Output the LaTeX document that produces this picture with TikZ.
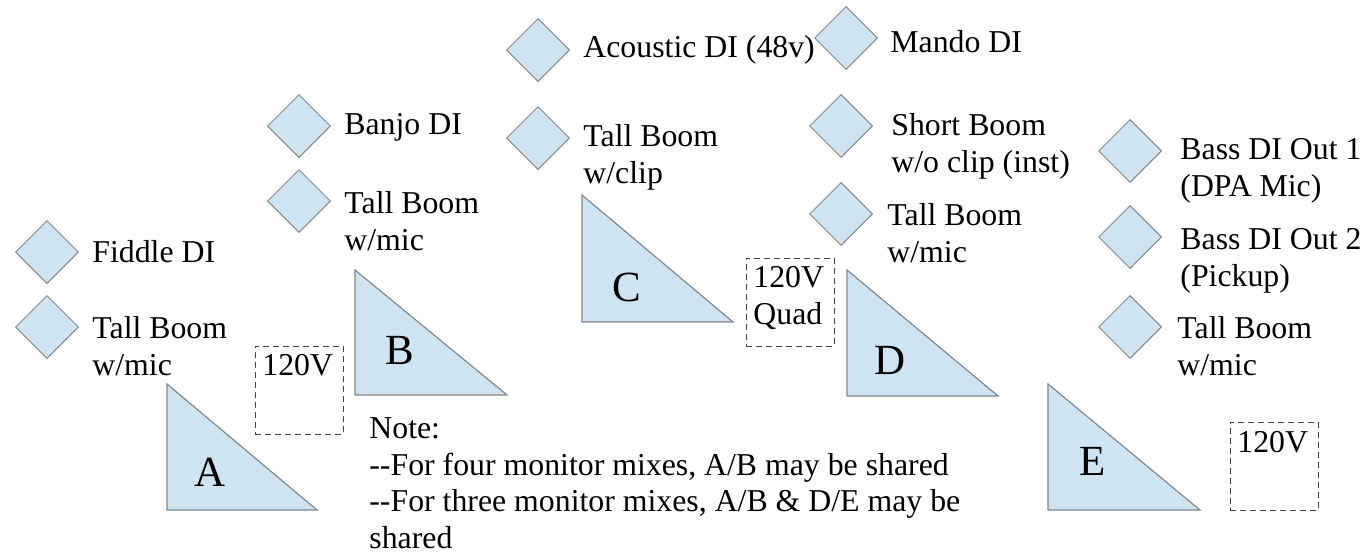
\documentclass[tikz,border=0pt]{standalone}
\usepackage{fontspec}
\setmainfont{Liberation Serif}
\usetikzlibrary{shapes.geometric,positioning}
\definecolor{standblue}{RGB}{207,228,242}
\definecolor{edgegray}{RGB}{135,135,135}
\definecolor{dashgray}{RGB}{70,70,70}

\begin{document}
\begin{tikzpicture}[x=0.5pt, y=-0.5pt,
        input/.style={diamond, draw=edgegray, fill=standblue, line width=0.5pt, minimum width=31.5pt, minimum height=31.5pt, inner sep=0pt},
        wedge/.style={draw=edgegray, fill=standblue, line width=0.6pt},
        tag/.style={anchor=west, align=left, inner sep=0pt, font=\fontsize{15.9}{18.4}\selectfont},
        mix/.style={inner sep=0pt, font=\fontsize{21.5}{24}\selectfont},
        outlet/.style={draw=dashgray, dashed, dash pattern=on 3pt off 2pt, line width=0.5pt, minimum width=44pt, minimum height=44pt, inner sep=0pt}
    ]
        \useasboundingbox (0,0) rectangle (1368,554);

        % Mix A inputs
        \node[input] (fiddle) at (47, 252) {};
        \node[tag] (fiddletxt) at (92, 252) {Fiddle DI};
        \node[input] (boomA) at (47, 327) {};
        \node[tag] (boomAtxt) at (92, 346) {Tall Boom\\w/mic};

        % Mix B inputs
        \node[input] (banjo) at (299, 126) {};
        \node[tag] (banjotxt) at (344, 127) {Banjo DI};
        \node[input] (boomB) at (299, 201) {};
        \node[tag] (boomBtxt) at (344, 221) {Tall Boom\\w/mic};

        % Mix C inputs
        \node[input] (acoustic) at (538, 50) {};
        \node[tag] (acoustictxt) at (583, 50) {Acoustic DI (48v)};
        \node[input] (boomC) at (538, 138) {};
        \node[tag] (boomCtxt) at (583, 157) {Tall Boom\\w/clip};

        % Mix D inputs
        \node[input] (mando) at (846, 38) {};
        \node[tag] (mandotxt) at (890, 42) {Mando DI};
        \node[input] (shortboom) at (841, 126) {};
        \node[tag] (shortboomtxt) at (891, 146) {Short Boom\\w/o clip (inst)};
        \node[input] (boomD) at (841, 214) {};
        \node[tag] (boomDtxt) at (887, 233) {Tall Boom\\w/mic};

        % Mix E inputs
        \node[input] (bass1) at (1130, 151) {};
        \node[tag] (bass1txt) at (1180, 171) {Bass DI Out 1\\(DPA Mic)};
        \node[input] (bass2) at (1130, 237) {};
        \node[tag] (bass2txt) at (1180, 261) {Bass DI Out 2\\(Pickup)};
        \node[input] (boomE) at (1130, 327) {};
        \node[tag] (boomEtxt) at (1177, 346) {Tall Boom\\w/mic};

        % Monitor wedges
        \draw[wedge] (167, 384) -- (167, 510) -- (317, 510) -- cycle;
        \node[mix] (mixA) at (210, 472) {A};
        \draw[wedge] (355, 270) -- (355, 395) -- (507, 395) -- cycle;
        \node[mix] (mixB) at (400, 350) {B};
        \draw[wedge] (582, 195) -- (582, 322) -- (733, 322) -- cycle;
        \node[mix] (mixC) at (627, 287) {C};
        \draw[wedge] (847, 270) -- (847, 396) -- (998, 396) -- cycle;
        \node[mix] (mixD) at (890, 360) {D};
        \draw[wedge] (1048, 384) -- (1048, 510) -- (1200, 510) -- cycle;
        \node[mix] (mixE) at (1093, 461) {E};

        % Power drops
        \node[outlet] (pwrA) at (299, 390) {};
        \node[tag, anchor=north west] (pwrAtxt) at (262, 354) {120V};
        \node[outlet] (pwrQuad) at (790, 302) {};
        \node[tag, anchor=north west] (pwrQuadtxt) at (753, 266) {120V\\Quad};
        \node[outlet] (pwrE) at (1274, 466) {};
        \node[tag, anchor=north west] (pwrEtxt) at (1237, 431) {120V};

        % Note
        \node[tag, anchor=north west] (note) at (369, 417) {Note:\\{-}{-}For four monitor mixes, A/B may be shared\\{-}{-}For three monitor mixes, A/B \& D/E may be\\shared};
    \end{tikzpicture}
\end{document}
